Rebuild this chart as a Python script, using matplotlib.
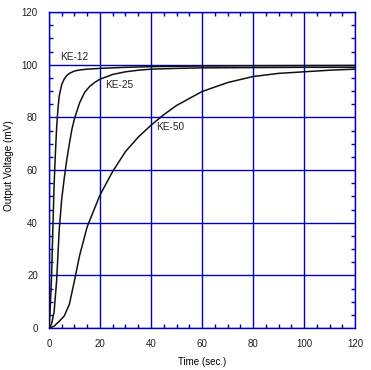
import matplotlib
matplotlib.use('Agg')
import matplotlib.pyplot as plt
from matplotlib.ticker import MultipleLocator

plt.rcParams['font.family'] = ['Liberation Sans', 'DejaVu Sans']

# data
ke12_t = [0, 0.5, 1, 1.5, 2, 2.5, 3, 3.5, 4, 5, 6, 7, 8, 10, 12, 15, 20, 25, 30, 40, 50, 60, 80, 100, 120]
ke12_v = [0, 8, 19, 37, 54, 66, 76, 83, 88, 92.5, 94.6, 95.9, 96.7, 97.6, 98.0, 98.3, 98.6, 98.8, 99.0, 99.25, 99.4, 99.5, 99.6, 99.65, 99.7]

ke25_t = [0, 1, 2, 3, 4, 5, 6, 7, 8, 9, 10, 12, 14, 16, 18, 20, 25, 30, 35, 40, 50, 60, 80, 100, 120]
ke25_v = [0, 1.5, 6, 18, 37, 49, 57, 64, 70, 75.5, 79.5, 85.5, 89.5, 91.8, 93.3, 94.5, 96.3, 97.3, 97.9, 98.3, 98.6, 98.8, 98.9, 99.0, 99.0]

ke50_t = [0, 2, 4, 6, 8, 10, 12, 15, 20, 25, 30, 35, 40, 45, 50, 60, 70, 80, 90, 100, 110, 120]
ke50_v = [0, 0.7, 2.5, 4.6, 9, 18, 27.5, 38.5, 50.5, 59.5, 67, 72.5, 77, 81, 84.5, 89.8, 93.2, 95.5, 96.7, 97.3, 97.9, 98.3]

labels = ['KE-12', 'KE-25', 'KE-50']
label_pos = [(4.3, 103), (22, 92.2), (42, 76.2)]

blue = '#0000C0'

fig = plt.figure(figsize=(3.71, 3.70), dpi=100)
ax = fig.add_axes([0.132, 0.1135, 0.825, 0.854])

for t, v in [(ke12_t, ke12_v), (ke25_t, ke25_v), (ke50_t, ke50_v)]:
    ax.plot(t, v, color='#111111', lw=1.1, zorder=3)

for name, (x, y) in zip(labels, label_pos):
    ax.text(x, y, name, fontsize=7.2, va='center', ha='left', color='#202020')

ax.set_xlim(0, 120)
ax.set_ylim(0, 120)
ax.xaxis.set_major_locator(MultipleLocator(20))
ax.yaxis.set_major_locator(MultipleLocator(20))
ax.xaxis.set_minor_locator(MultipleLocator(5))
ax.yaxis.set_minor_locator(MultipleLocator(5))
ax.grid(True, which='major', color=blue, lw=1.0)
ax.tick_params(which='both', direction='in', color=blue, top=True, right=True,
               labelsize=7, labelcolor='#202020')
ax.tick_params(which='major', length=0, pad=8)
ax.tick_params(which='minor', length=3, width=1)
for s in ax.spines.values():
    s.set_color(blue)
    s.set_linewidth(1.0)

ax.set_xlabel('Time (sec.)', fontsize=7, labelpad=6)
ax.set_ylabel('Output Voltage (mV)', fontsize=7.2, labelpad=6)
ax.yaxis.set_label_coords(-0.113, 0.515)

fig.savefig('out.png', dpi=100)
